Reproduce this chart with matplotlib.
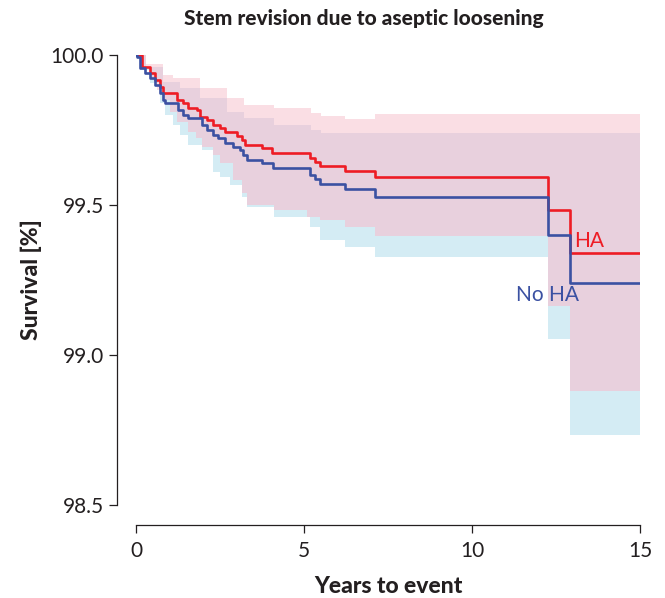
import numpy as np
import matplotlib.pyplot as plt

plt.rcParams['font.family'] = ['Lato', 'DejaVu Sans']

# Kaplan-Meier estimates (years, survival %)
ha_t = [0, 0.17, 0.42, 0.57, 0.71, 0.81, 1.21, 1.41, 1.56, 1.81, 1.90, 2.10, 2.29, 2.50,
        2.65, 3.00, 3.15, 3.24, 3.74, 4.04, 5.18, 5.33, 5.48, 6.22, 7.11, 12.26, 12.92]
ha_surv = [100, 99.961, 99.939, 99.917, 99.894, 99.872, 99.85, 99.84, 99.823, 99.817, 99.794,
           99.783, 99.767, 99.757, 99.744, 99.73, 99.717, 99.70, 99.689, 99.674, 99.656,
           99.644, 99.63, 99.613, 99.593, 99.483, 99.34]

noha_t = [0, 0.02, 0.12, 0.27, 0.42, 0.57, 0.71, 0.81, 0.86, 1.26, 1.41, 1.56, 1.96, 2.10,
          2.29, 2.45, 2.65, 2.90, 3.10, 3.19, 3.29, 3.74, 4.09, 5.18, 5.33, 5.48, 6.22, 7.11,
          12.26, 12.92]
noha_surv = [100, 99.994, 99.956, 99.939, 99.922, 99.90, 99.872, 99.85, 99.839, 99.817, 99.80,
             99.789, 99.767, 99.75, 99.733, 99.722, 99.706, 99.694, 99.683, 99.667, 99.65,
             99.639, 99.622, 99.60, 99.587, 99.57, 99.553, 99.527, 99.40, 99.24]

# confidence bands
ha_hi_t = [0, 0.3, 0.8, 1.1, 1.9, 2.7, 3.2, 4.1, 5.2, 5.5, 6.22, 7.11]
ha_hi = [100, 99.97, 99.933, 99.923, 99.89, 99.857, 99.835, 99.823, 99.807, 99.797, 99.787, 99.803]
ha_lo_t = [0, 0.17, 0.42, 0.62, 0.8, 1.0, 1.22, 1.55, 1.8, 1.96, 2.3, 2.5, 2.9, 3.15, 3.3,
           4.1, 5.1, 5.48, 6.22, 7.11, 12.26, 12.92]
ha_lo = [100, 99.955, 99.927, 99.883, 99.85, 99.81, 99.777, 99.743, 99.723, 99.693, 99.667,
         99.64, 99.583, 99.54, 99.50, 99.483, 99.46, 99.45, 99.427, 99.397, 99.163, 98.88]

noha_hi_t = [0, 0.3, 0.8, 1.3, 1.9, 2.7, 3.2, 4.1, 5.2, 5.5]
noha_hi = [100, 99.96, 99.91, 99.89, 99.857, 99.81, 99.79, 99.767, 99.75, 99.74]
noha_lo_t = [0, 0.12, 0.42, 0.71, 0.86, 1.1, 1.3, 1.55, 1.96, 2.3, 2.5, 2.8, 3.15, 3.3, 4.1,
             5.18, 5.48, 6.22, 7.11, 12.26, 12.92]
noha_lo = [100, 99.95, 99.907, 99.84, 99.80, 99.767, 99.733, 99.70, 99.683, 99.61, 99.593,
           99.567, 99.527, 99.493, 99.46, 99.427, 99.383, 99.36, 99.327, 99.053, 98.733]

t_end = 15
red = '#ee1c25'
blue = '#3b51a2'
ink = '#231f20'


def step_at(knots, vals, grid):
    idx = np.searchsorted(knots, grid, side='right') - 1
    return np.asarray(vals)[idx]


grid = np.unique(np.concatenate([ha_t, noha_t, ha_hi_t, ha_lo_t, noha_hi_t, noha_lo_t, [t_end]]))
r_lo = step_at(ha_lo_t, ha_lo, grid)
r_hi = step_at(ha_hi_t, ha_hi, grid)
b_lo = step_at(noha_lo_t, noha_lo, grid)
b_hi = step_at(noha_hi_t, noha_hi, grid)
o_lo = np.maximum(r_lo, b_lo)
o_hi = np.minimum(r_hi, b_hi)

fig = plt.figure(figsize=(6.65, 5.98), dpi=100)
ax = fig.add_axes([136 / 665, 1 - 505 / 598, 504 / 665, 450 / 598])

ax.fill_between(grid, b_lo, b_hi, step='post', color='#d4ecf4', lw=0)
ax.fill_between(grid, r_lo, r_hi, step='post', color='#fadee4', lw=0)
ax.fill_between(grid, o_lo, o_hi, where=o_hi > o_lo, step='post', color='#e8d0dd', lw=0)

ax.step(np.append(ha_t, t_end), np.append(ha_surv, ha_surv[-1]), where='post', color=red, lw=1.9)
ax.step(np.append(noha_t, t_end), np.append(noha_surv, noha_surv[-1]), where='post', color=blue, lw=1.9)

ax.text(12.92 + 0.12, 99.348, 'HA', color=red, fontsize=15, va='bottom', ha='left')
ax.text(11.3, 99.166, 'No HA', color=blue, fontsize=15, va='bottom', ha='left')

ax.set_xlim(0, 15)
ax.set_ylim(98.5, 100.0)
ax.set_xticks([0, 5, 10, 15])
ax.set_yticks([98.5, 99.0, 99.5, 100.0])
ax.set_yticklabels(['98.5', '99.0', '99.5', '100.0'])
for s in ['top', 'right']:
    ax.spines[s].set_visible(False)
ax.spines['left'].set_position(('outward', 13.5))
ax.spines['bottom'].set_position(('outward', 14.4))
for s in ['left', 'bottom']:
    ax.spines[s].set_color(ink)
    ax.spines[s].set_linewidth(0.9)
ax.tick_params(axis='both', labelsize=15, length=5.5, width=0.9, color=ink, labelcolor=ink)
ax.tick_params(axis='x', pad=6)
ax.tick_params(axis='y', pad=4)

ax.set_xlabel('Years to event', fontsize=16.5, fontweight='black', labelpad=11, color=ink)
ax.set_ylabel('Survival [%]', fontsize=16.5, fontweight='black', labelpad=6, color=ink)
fig.text(364 / 665, 1 - 18 / 598, 'Stem revision due to aseptic loosening', fontsize=15,
         fontweight='black', ha='center', va='center', color=ink)

fig.savefig('out.png', dpi=100)
